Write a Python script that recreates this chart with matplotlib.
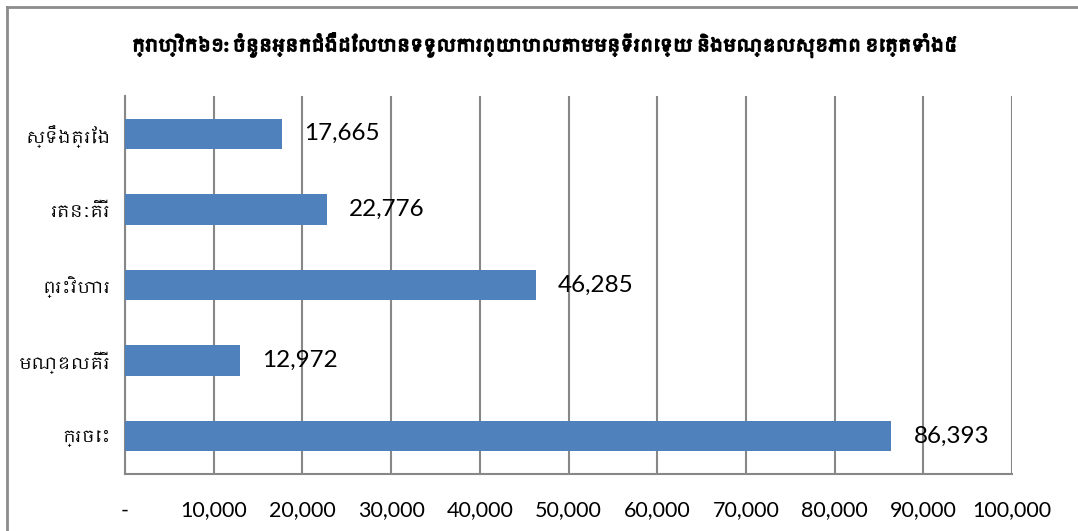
import matplotlib
matplotlib.use("Agg")
import matplotlib.pyplot as plt
from matplotlib import font_manager
from matplotlib.lines import Line2D
import matplotlib.patheffects as pe

# ---- data ----
categories = ["ស្ទឹងត្រែង", "រតនៈគីរី", "ព្រះវិហារ", "មណ្ឌលគីរី", "ក្រចេះ"]
values = [17665, 22776, 46285, 12972, 86393]
xticks = [0, 10000, 20000, 30000, 40000, 50000, 60000, 70000, 80000, 90000, 100000]
xtick_labels = ["-", "10,000", "20,000", "30,000", "40,000", "50,000",
                "60,000", "70,000", "80,000", "90,000", "100,000"]
title = "ក្រាហ្វិក៦១: ចំនួនអ្នកជំងឺដែលបានទទួលការព្យាបាលតាមមន្ទីរពេទ្យ និងមណ្ឌលសុខភាព ខេត្តទាំង៥"

# find any installed font with Khmer in its name
khmer = [f.name for f in font_manager.fontManager.ttflist if "khmer" in f.name.lower()]
fam = ["Lato"] + khmer[:1] + ["DejaVu Sans"]
plt.rcParams["font.family"] = fam

W, H = 1078, 531
fig = plt.figure(figsize=(W / 100, H / 100), dpi=100)
ax = fig.add_axes([125 / W, (H - 474) / H, (1012 - 125) / W, (474 - 96) / H])

ypos = list(range(len(categories)))
ax.barh(ypos, values, height=0.4, color="#4F81BD", zorder=3)
ax.set_ylim(len(categories) - 0.5, -0.5)
ax.set_xlim(0, 100000)
ax.set_xticks(xticks)
ax.set_xticklabels(xtick_labels, fontsize=15.5)
ax.set_yticks(ypos)
ax.set_yticklabels(categories, fontsize=12.5)
ax.tick_params(axis="x", length=0, pad=19)
ax.tick_params(axis="y", length=0, pad=10)
ax.grid(axis="x", color="#878787", linewidth=1.5, zorder=0)
for s in ["top", "right"]:
    ax.spines[s].set_visible(False)
for s in ["left", "bottom"]:
    ax.spines[s].set_color("#878787")
    ax.spines[s].set_linewidth(1.5)

for y, v in zip(ypos, values):
    ax.annotate(f"{v:,}", xy=(v, y), xytext=(16, 0), textcoords="offset points",
                va="center", ha="left", fontsize=17.5, color="black", zorder=5)

fig.text(545 / W, 1 - 45 / H, title, ha="center", va="center",
         fontsize=12.5, fontweight="bold",
         path_effects=[pe.withStroke(linewidth=1.1, foreground="black")])

# figure border (top and left visible)
fig.add_artist(Line2D([7 / W, 7 / W], [0, 1 - 7 / H], transform=fig.transFigure,
                      color="#8C8C8C", linewidth=2))
fig.add_artist(Line2D([7 / W, 1], [1 - 7 / H, 1 - 7 / H], transform=fig.transFigure,
                      color="#8C8C8C", linewidth=2))

fig.savefig("out.png", dpi=100)
